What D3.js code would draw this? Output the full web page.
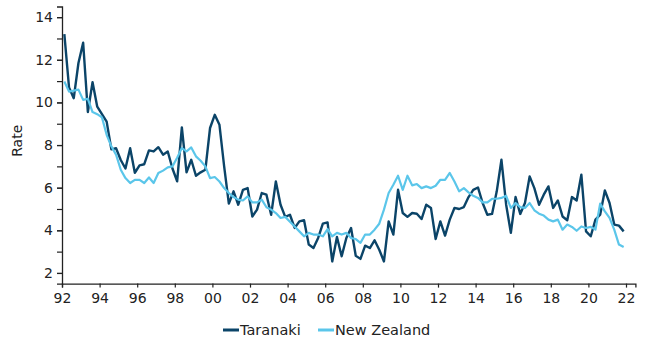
<!DOCTYPE html>
<html>
<head>
<meta charset="utf-8">
<script src="https://cdn.jsdelivr.net/npm/d3@7/dist/d3.min.js"></script>
<style>
  html, body { margin: 0; padding: 0; background: #fff; }
  svg { display: block; }
  text { font-family: "DejaVu Sans", Verdana, sans-serif; fill: #222; }
</style>
</head>
<body>
<svg id="chart" width="649" height="339"></svg>
<script>
// Quarterly rates, 1992 Q1 .. 2021 Q4
const startYear = 1992;
const seriesNames = ["Taranaki", "New Zealand"];
const taranaki = [
  13.2, 10.7, 10.2, 11.85, 12.8, 9.55, 10.95, 9.8, 9.45, 9.1,
  7.8, 7.85, 7.3, 6.9, 7.85, 6.7, 7.05, 7.1, 7.75, 7.7,
  7.9, 7.55, 7.7, 6.9, 6.3, 8.83, 6.72, 7.31, 6.56, 6.72,
  6.84, 8.8, 9.42, 8.95, 7.0, 5.25, 5.83, 5.2, 5.9, 5.98,
  4.65, 4.97, 5.75, 5.67, 4.73, 6.29, 5.2, 4.63, 4.73, 4.11,
  4.42, 4.47, 3.33, 3.17, 3.64, 4.31, 4.37, 2.54, 3.69, 2.78,
  3.64, 4.11, 2.81, 2.66, 3.28, 3.17, 3.53, 3.09, 2.54, 4.42,
  3.8, 5.9, 4.81, 4.63, 4.81, 4.78, 4.53, 5.2, 5.05, 3.59,
  4.42, 3.75, 4.5, 5.05, 5.0, 5.09, 5.56, 5.9, 6.01, 5.28,
  4.73, 4.77, 5.83, 7.31, 5.2, 3.88, 5.56, 4.77, 5.28, 6.53,
  5.98, 5.2, 5.67, 6.06, 5.05, 5.4, 4.65, 4.47, 5.56, 5.4,
  6.61, 3.95, 3.72, 4.5, 4.73, 5.87, 5.28, 4.27, 4.22, 3.95
];
const newZealand = [
  10.98, 10.51, 10.55, 10.6, 10.12, 10.17, 9.55, 9.45, 9.3, 8.48,
  7.94, 7.55, 6.84, 6.45, 6.22, 6.37, 6.37, 6.22, 6.48, 6.22,
  6.69, 6.8, 6.95, 7.0, 7.4, 7.86, 7.7, 7.89, 7.47, 7.26,
  7.0, 6.45, 6.5, 6.29, 5.98, 5.75, 5.56, 5.44, 5.4, 5.59,
  5.31, 5.31, 5.44, 5.08, 4.97, 4.81, 4.58, 4.63, 4.4, 4.18,
  3.95, 3.72, 3.88, 3.8, 3.8, 3.72, 4.06, 3.72, 3.88, 3.8,
  3.88, 3.64, 3.59, 3.41, 3.8, 3.8, 4.03, 4.31, 4.97, 5.75,
  6.14, 6.56, 5.9, 6.56, 6.11, 6.17, 5.98, 6.06, 5.98, 6.09,
  6.37, 6.37, 6.69, 6.29, 5.83, 5.98, 5.78, 5.62, 5.52, 5.31,
  5.31, 5.48, 5.48, 5.52, 5.62, 5.05, 5.28, 5.09, 5.05, 5.28,
  4.94, 4.78, 4.69, 4.5, 4.42, 4.5, 4.03, 4.27, 4.16, 3.98,
  4.18, 4.11, 4.16, 4.03, 5.25, 4.89, 4.58, 4.03, 3.33, 3.22
];
const xTickYears = [1992, 1994, 1996, 1998, 2000, 2002, 2004, 2006, 2008, 2010, 2012, 2014, 2016, 2018, 2020, 2022];
const yTickLabels = [2, 4, 6, 8, 10, 12, 14];
const yMinorTicks = [2, 3, 4, 5, 6, 7, 8, 9, 10, 11, 12, 13, 14];
const colors = ["#0b4468", "#5bc6ea"];

const svg = d3.select("#chart");
const x = d3.scaleLinear().domain([1992, 2022.5]).range([62, 635.4]);
const y = d3.scaleLinear().domain([1.5, 14.5]).range([283.6, 6.5]);

const quarterTime = i => startYear + 0.125 + 0.25 * i;

// Axes
const xAxis = d3.axisBottom(x).tickValues(xTickYears)
  .tickFormat(d => String(d % 100).padStart(2, "0"))
  .tickSize(4).tickPadding(5);
const gx = svg.append("g").attr("transform", `translate(0,${y(1.5)})`).call(xAxis);
gx.select(".domain").attr("stroke", "#222").attr("stroke-width", 1.3);
gx.selectAll(".tick line").attr("stroke", "#222").attr("stroke-width", 1.2);
gx.selectAll("text").style("font-size", "14px").attr("fill", "#222");

const yAxisMinor = d3.axisLeft(y).tickValues(yMinorTicks).tickFormat("").tickSize(5);
const gym = svg.append("g").attr("transform", `translate(${x(1992)},0)`).call(yAxisMinor);
gym.select(".domain").attr("stroke", "#222").attr("stroke-width", 1.3);
gym.selectAll(".tick line").attr("stroke", "#222").attr("stroke-width", 1.2);

const yAxis = d3.axisLeft(y).tickValues(yTickLabels).tickSize(5).tickPadding(4);
const gy = svg.append("g").attr("transform", `translate(${x(1992)},0)`).call(yAxis);
gy.select(".domain").remove();
gy.selectAll(".tick line").attr("stroke", "#222").attr("stroke-width", 1.2);
gy.selectAll("text").style("font-size", "14px").attr("fill", "#222");

svg.append("text")
  .attr("transform", `translate(22,${y(8.2)}) rotate(-90)`)
  .attr("text-anchor", "middle")
  .style("font-size", "14px")
  .text("Rate");

// Lines
const line = d3.line().x((d, i) => x(quarterTime(i))).y(d => y(d)).curve(d3.curveLinear);
[taranaki, newZealand].forEach((vals, k) => {
  svg.append("path")
    .datum(vals)
    .attr("fill", "none")
    .attr("stroke", colors[k])
    .attr("stroke-width", k === 0 ? 2.4 : 2.2)
    .attr("stroke-linejoin", "round")
    .attr("d", line);
});

// Legend
const legendItems = [
  { name: seriesNames[0], color: colors[0], x0: 223 },
  { name: seriesNames[1], color: colors[1], x0: 318 }
];
const lg = svg.append("g");
legendItems.forEach(it => {
  lg.append("line").attr("x1", it.x0).attr("x2", it.x0 + 16)
    .attr("y1", 330).attr("y2", 330)
    .attr("stroke", it.color).attr("stroke-width", 3);
  lg.append("text").attr("x", it.x0 + 17).attr("y", 335)
    .style("font-size", "14.5px").text(it.name);
});
</script>
</body>
</html>
